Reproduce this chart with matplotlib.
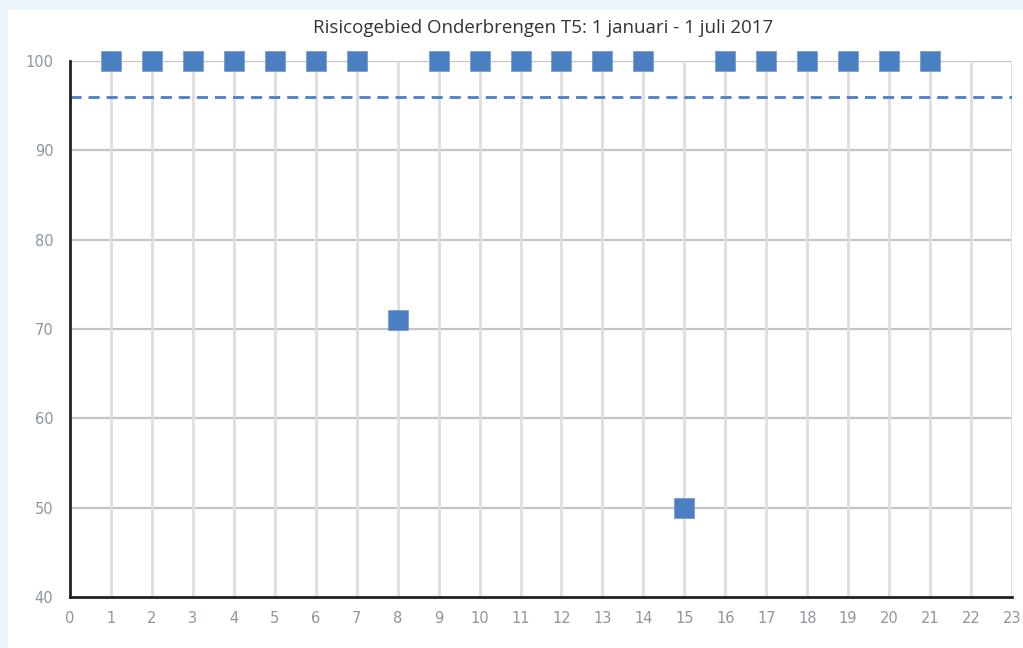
import matplotlib.pyplot as plt
from matplotlib.patches import Rectangle

# data
weeks = [1, 2, 3, 4, 5, 6, 7, 8, 9, 10, 11, 12, 13, 14, 15, 16, 17, 18, 19, 20, 21]
scores = [100, 100, 100, 100, 100, 100, 100, 71, 100, 100, 100, 100, 100, 100,
          50, 100, 100, 100, 100, 100, 100]
norm = 96
title = 'Risicogebied Onderbrengen T5: 1 januari - 1 juli 2017'

blue = '#4a7fc1'
tick_col = '#8c96a0'

fig = plt.figure(figsize=(10.23, 6.48), dpi=100)
fig.patch.set_facecolor('#ebf4fb')
fig.patches.append(Rectangle((8 / 1023, 0), 1, 1 - 10 / 648, transform=fig.transFigure,
                             facecolor='white', edgecolor='none', zorder=-10))

ax = fig.add_axes([70 / 1023, 1 - 597 / 648, (1012 - 70) / 1023, (597 - 61) / 648])
ax.set_facecolor('white')
ax.set_xlim(0, 23)
ax.set_ylim(40, 100)
ax.set_xticks(range(0, 24))
ax.set_yticks(range(40, 101, 10))

for y in range(50, 101, 10):
    ax.axhline(y, color='#c4c4c4', lw=1.6, zorder=1)
for x in range(1, 24):
    ax.axvline(x, color='#dedede', lw=2, zorder=1)

ax.axhline(norm, color=blue, lw=2, ls=(0, (4, 2.5)), zorder=2)
ax.plot(weeks, scores, ls='none', marker='s', ms=14, color=blue,
        mec='#6f9ad0', mew=0.5, zorder=3, clip_on=False)

for s in ['top', 'right']:
    ax.spines[s].set_visible(False)
ax.spines['left'].set_color('#222222')
ax.spines['left'].set_linewidth(2)
ax.spines['bottom'].set_color('#222222')
ax.spines['bottom'].set_linewidth(2)
ax.tick_params(length=0, labelsize=10.5, labelcolor=tick_col, pad=10)
ax.tick_params(axis='y', pad=12)
for lbl in ax.get_xticklabels() + ax.get_yticklabels():
    lbl.set_family('DejaVu Sans')

fig.text(543 / 1023, 1 - 28 / 648, title, ha='center', va='center',
         fontsize=13.5, color='#333333', family='Open Sans')

fig.savefig('out.png', dpi=100, facecolor=fig.get_facecolor())
